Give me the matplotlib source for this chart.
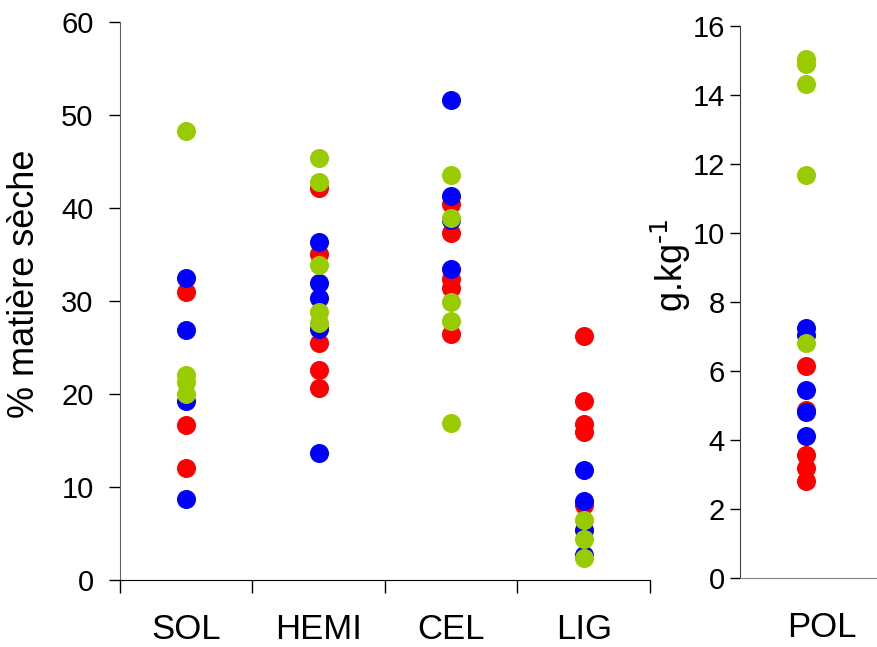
import matplotlib
matplotlib.use("Agg")
import matplotlib.pyplot as plt

plt.rcParams['font.family'] = ['Liberation Sans', 'DejaVu Sans']

# fractions en % de matiere seche
fractions = ['SOL', 'HEMI', 'CEL', 'LIG']
rouge = [[31.0, 16.7, 12.0],
         [42.1, 35.1, 25.5, 22.6, 20.6],
         [40.4, 37.3, 32.4, 31.4, 26.4],
         [26.2, 19.2, 16.8, 15.9, 8.1]]
bleu = [[32.5, 26.9, 19.2, 8.7],
        [36.3, 31.9, 30.3, 27.0, 13.7],
        [51.6, 41.3, 38.7, 33.4],
        [11.8, 8.5, 5.4, 2.7]]
vert = [[48.3, 22.0, 21.3, 20.0],
        [45.4, 42.8, 33.9, 28.8, 27.6],
        [43.6, 38.9, 29.9, 27.8, 16.9],
        [6.4, 4.4, 2.4]]

# polyphenols en g/kg
pol_rouge = [6.14, 4.88, 3.58, 3.2, 2.81]
pol_bleu = [7.26, 7.05, 5.46, 4.81, 4.13]
pol_vert = [15.05, 14.9, 14.33, 11.68, 6.81]

couleurs = ['#FF0000', '#0000FF', '#99CC00']
ms = 13.7

fig = plt.figure(figsize=(8.77, 6.47), dpi=100)
ax = fig.add_axes([0.1368, 0.1036, 0.6043, 0.8624])
ax2 = fig.add_axes([0.8438, 0.1066, 0.1562, 0.853])

for serie, c in zip([rouge, bleu, vert], couleurs):
    for i, vals in enumerate(serie):
        ax.plot([i + 0.5] * len(vals), vals, 'o', color=c, ms=ms, mec='none', clip_on=False)

for vals, c in zip([pol_rouge, pol_bleu, pol_vert], couleurs):
    ax2.plot([0.5] * len(vals), vals, 'o', color=c, ms=ms, mec='none', clip_on=False)

# panneau de gauche
ax.set_xlim(0, len(fractions))
ax.set_ylim(0, 60)
ax.set_yticks(range(0, 61, 10))
ax.set_xticks([i + 0.5 for i in range(len(fractions))])
ax.set_xticklabels(fractions, fontsize=25)
ax.set_xticks(range(len(fractions) + 1), minor=True)
ax.tick_params(axis='x', which='major', length=0, pad=24)
ax.tick_params(axis='x', which='minor', length=9, width=1, direction='out')
ax.tick_params(axis='y', labelsize=21, length=8, width=1, pad=11)
for s in ['top', 'right']:
    ax.spines[s].set_visible(False)
ax.spines['left'].set_color('#606060')
ax.spines['bottom'].set_color('black')
ax.set_ylabel('% matière sèche', fontsize=26)
ax.yaxis.set_label_coords(-0.147, 0.53)

# panneau de droite
ax2.set_xlim(0, 1.04)
ax2.set_ylim(0, 16)
ax2.set_yticks(range(0, 17, 2))
ax2.set_xticks([0.62])
ax2.set_xticklabels(['POL'], fontsize=25)
ax2.tick_params(axis='x', length=0, pad=24)
ax2.tick_params(axis='y', labelsize=21, length=7, width=1, pad=4)
for s in ['top', 'right']:
    ax2.spines[s].set_visible(False)
ax2.spines['left'].set_color('#404040')
ax2.spines['bottom'].set_color('#808080')
ax2.set_ylabel('g.kg$^{\\text{-1}}$', fontsize=26)
ax2.yaxis.set_label_coords(-0.343, 0.567)

fig.savefig('out.png', dpi=100)
